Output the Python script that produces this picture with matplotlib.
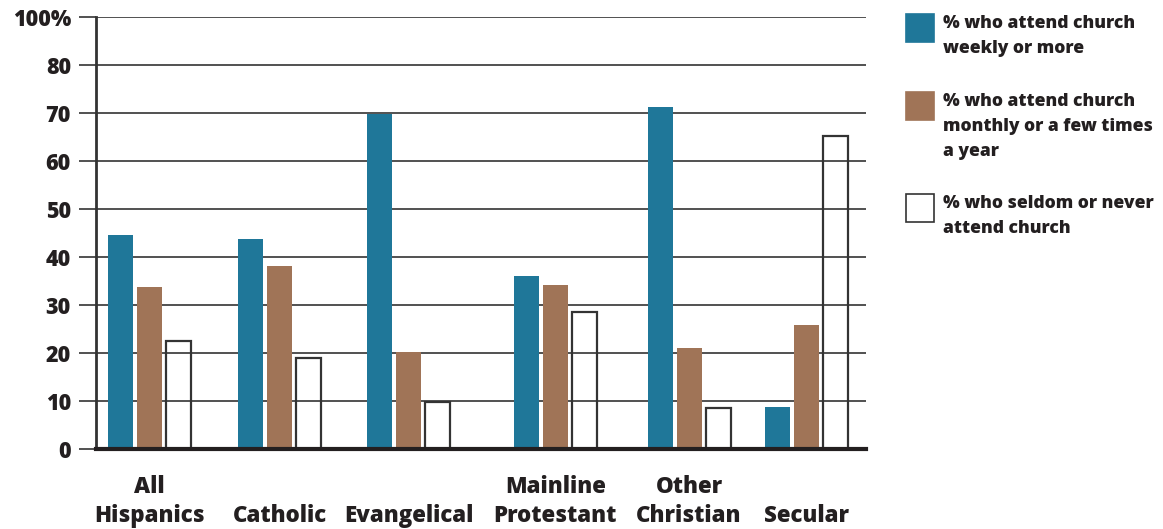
import matplotlib
matplotlib.use("Agg")
import matplotlib.pyplot as plt
import numpy as np

plt.rcParams['font.family'] = ['Open Sans', 'DejaVu Sans']
plt.rcParams['font.weight'] = 'bold'

# data
groups = ["All\nHispanics", "\nCatholic", "\nEvangelical",
          "Mainline\nProtestant", "Other\nChristian", "\nSecular"]
weekly = [44.6, 43.8, 69.8, 36.0, 71.2, 8.8]
monthly = [33.8, 38.1, 20.2, 34.2, 21.0, 25.8]
seldom = [22.5, 19.0, 9.8, 28.5, 8.5, 65.2]
series_names = ["% who attend church\nweekly or more",
                "% who attend church\nmonthly or a few times\na year",
                "% who seldom or never\nattend church"]
ytick_vals = [0, 10, 20, 30, 40, 50, 60, 70, 80, 90]
ytick_labels = ["0", "10", "20", "30", "40", "50", "60", "70", "80", "100%"]

# group centres (in bar-pitch units), as laid out in the original
centres = np.array([1.84, 6.33, 10.79, 15.84, 20.45, 24.5])

blue = "#1f7799"
brown = "#a07457"
ink = "#231f20"

fig = plt.figure(figsize=(11.63, 5.29), dpi=100)
ax = fig.add_axes([96 / 1163, 1 - 449 / 529, 770 / 1163, 432 / 529])

w = 0.86
ax.bar(centres - 1, weekly, w, color=blue, zorder=3)
ax.bar(centres, monthly, w, color=brown, zorder=3)
ax.bar(centres + 1, seldom, w, facecolor="none", edgecolor="#333333",
       linewidth=1.6, zorder=3)

ax.set_xlim(0, 770 / 29)
ax.set_ylim(0, 90)
ax.set_yticks(ytick_vals)
ax.set_yticklabels(ytick_labels, fontsize=15.5, color=ink, fontweight=800)
ax.tick_params(axis='y', length=12, width=1.2, color="#333333", pad=6)
ax.yaxis.grid(True, color="#333333", linewidth=1.2, zorder=1)
ax.set_axisbelow(True)

ax.set_xticks(centres)
ax.set_xticklabels(groups, fontsize=16, color=ink, fontweight=800,
                   linespacing=1.25)
ax.tick_params(axis='x', length=0, pad=19)

for s in ["top", "right"]:
    ax.spines[s].set_visible(False)
ax.spines["left"].set_linewidth(2)
ax.spines["left"].set_color("#333333")
ax.spines["bottom"].set_linewidth(3)
ax.spines["bottom"].set_color(ink)
ax.spines["bottom"].set_zorder(4)

# legend drawn by hand to the right of the plot
W, H = 1163, 529
tops = [14, 92, 194]
faces = [blue, brown, "white"]
for top, fc, name in zip(tops, faces, series_names):
    sq = plt.Rectangle((906 / W, 1 - (top + 28) / H), 28 / W, 28 / H,
                       transform=fig.transFigure, facecolor=fc,
                       edgecolor="#333333" if fc == "white" else fc,
                       linewidth=1.2)
    fig.patches.append(sq)
    fig.text(943 / W, 1 - (top + 1) / H, name, fontsize=12.6, color=ink,
             fontweight=800, va='top', ha='left', linespacing=1.6)

fig.savefig("out.png", dpi=100)
